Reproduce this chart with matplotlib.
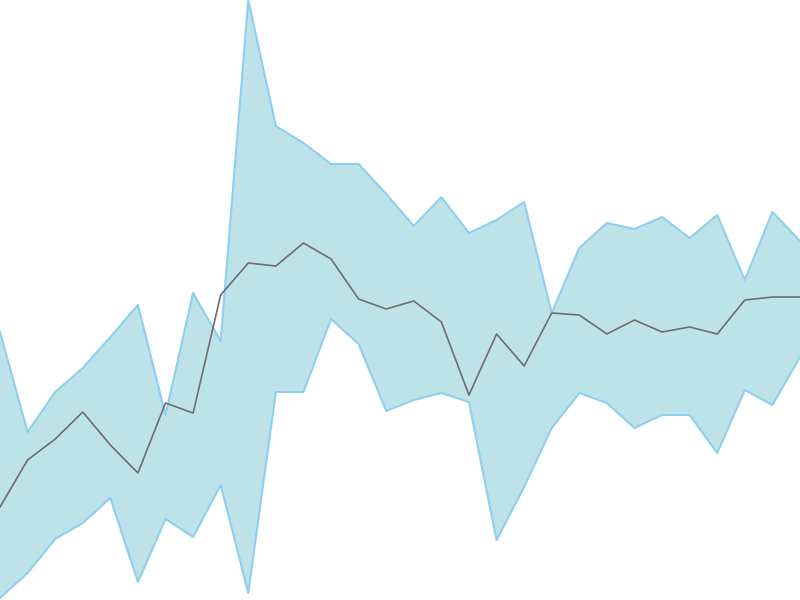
import matplotlib
matplotlib.use("Agg")
import matplotlib.pyplot as plt
import numpy as np

# values read as (600 - pixel y)
upper_px = [332, 432, 392, 368, 337, 305, 415, 293, 341, 0, 126, 143, 164, 164, 194, 226,
            197, 233, 220, 202, 313, 248, 223, 229, 217, 238, 215, 280, 212, 241]
lower_px = [598, 573, 539, 523, 498, 582, 519, 537, 485, 593, 392, 392, 319, 344, 411, 400,
            393, 402, 540, 487, 428, 393, 403, 428, 415, 415, 453, 390, 405, 357]
middle_px = [507, 460, 439, 412, 445, 473, 403, 413, 295, 263, 266, 243, 259, 299, 309, 301,
             322, 395, 334, 366, 313, 315, 334, 320, 332, 327, 334, 300, 297, 297]

upper = 600 - np.array(upper_px)
lower = 600 - np.array(lower_px)
middle = 600 - np.array(middle_px)
x = np.arange(len(upper))

fig = plt.figure(figsize=(8, 6), dpi=100)
ax = fig.add_axes([0, 0, 1, 1])
ax.fill_between(x, lower, upper, facecolor="#bde3e9", edgecolor="none")
ax.plot(x, upper, color="#8ecff0", lw=1.5)
ax.plot(x, lower, color="#8ecff0", lw=1.5)
ax.plot(x, middle, color="#6e6e6e", lw=1.2)
ax.set_xlim(0, len(x) - 1)
ax.set_ylim(0, 600)
ax.axis("off")
fig.savefig("out.png", dpi=100)
